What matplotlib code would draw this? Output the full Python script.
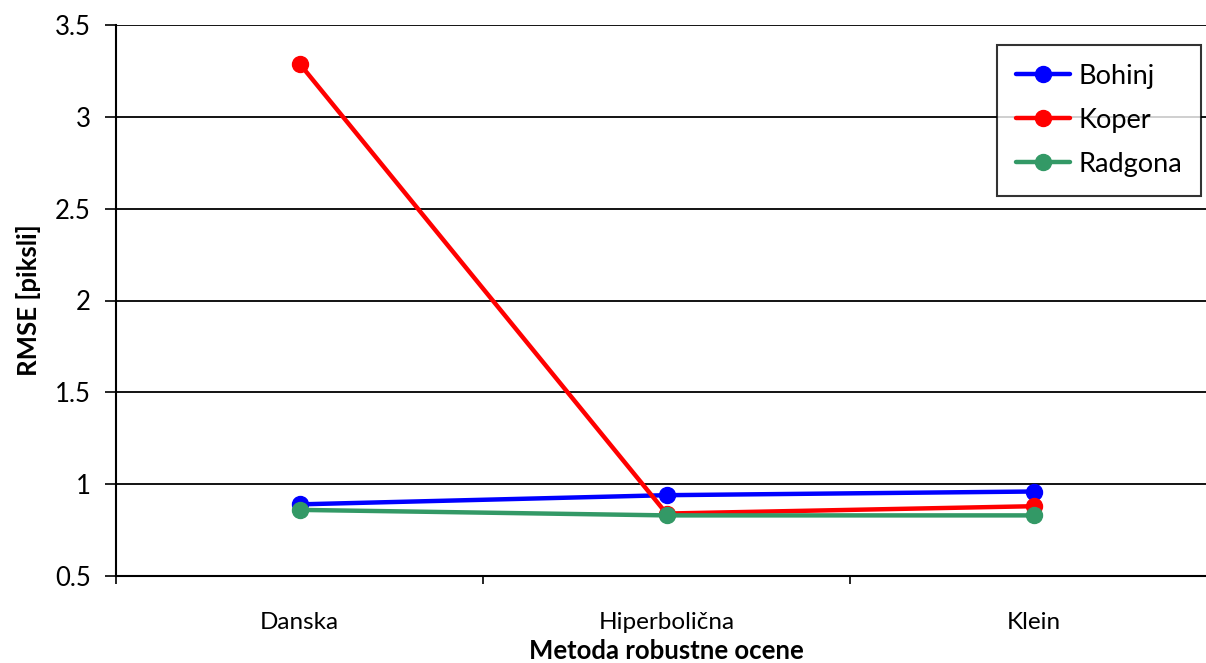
import matplotlib
matplotlib.use("Agg")
import matplotlib.pyplot as plt

plt.rcParams['font.family'] = ['Lato', 'DejaVu Sans']

methods = ["Danska", "Hiperbolična", "Klein"]
bohinj = [0.89, 0.94, 0.96]
koper = [3.29, 0.84, 0.88]
radgona = [0.86, 0.83, 0.83]
y_ticks = [0.5, 1, 1.5, 2, 2.5, 3, 3.5]
y_tick_labels = ["0.5", "1", "1.5", "2", "2.5", "3", "3.5"]

series = [
    ("Bohinj", bohinj, "#0000ff"),
    ("Koper", koper, "#ff0000"),
    ("Radgona", radgona, "#339966"),
]

fig = plt.figure(figsize=(12.06, 6.63), dpi=100)
ax = fig.add_axes([116 / 1206, 1 - 576 / 663, (1217 - 116) / 1206, (576 - 25) / 663])

x = list(range(len(methods)))
for name, vals, color in series:
    ax.plot(x, vals, color=color, lw=3.2, marker="o", markersize=11.5,
            label=name, solid_capstyle="round", zorder=3)

ax.set_xlim(-0.5, len(methods) - 0.5)
ax.set_ylim(0.5, 3.5)
ax.set_yticks(y_ticks)
ax.set_yticklabels(y_tick_labels, fontsize=18.5)
ax.set_xticks(x)
ax.set_xticklabels(methods, fontsize=17.5)
ax.tick_params(axis="x", which="major", length=0, pad=26)
ax.set_xticks([i - 0.5 for i in range(len(methods) + 1)], minor=True)
ax.tick_params(axis="x", which="minor", length=6, width=1.2, direction="out")
ax.tick_params(axis="y", length=8, width=1.2, direction="out", pad=10)

ax.grid(axis="y", color="black", lw=1.3, zorder=1)
ax.set_axisbelow(True)
for s in ["top", "right"]:
    ax.spines[s].set_visible(False)
for s in ["left", "bottom"]:
    ax.spines[s].set_linewidth(1.5)

ax.set_ylabel("RMSE [piksli]", fontsize=18.5, fontweight="bold", labelpad=10)
ax.set_xlabel("Metoda robustne ocene", fontsize=18.5, fontweight="bold", labelpad=4)

leg = ax.legend(loc="upper left", bbox_to_anchor=(997 / 1206, 1 - 45 / 663),
                bbox_transform=fig.transFigure, fontsize=19.5, frameon=True,
                fancybox=False, edgecolor="black", handlelength=2.0,
                handletextpad=0.3, borderpad=0.7, labelspacing=0.7,
                borderaxespad=0)
leg.get_frame().set_linewidth(1.5)

fig.savefig("out.png", dpi=100)
